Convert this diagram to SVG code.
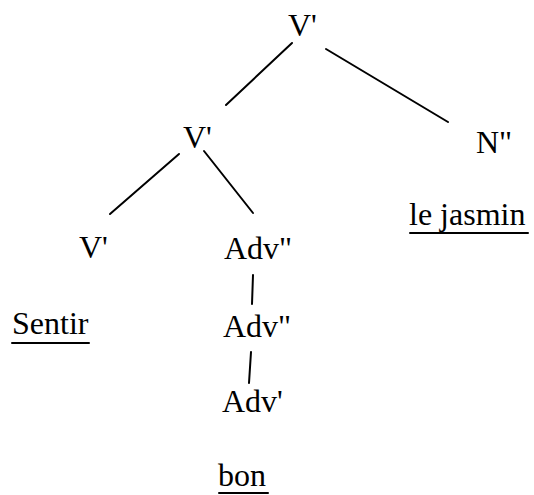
<svg xmlns="http://www.w3.org/2000/svg" width="534" height="495" viewBox="0 0 534 495">
<style>
text{font-family:"Liberation Serif","Times New Roman",serif;font-size:32px;fill:#000}
line{stroke:#000;stroke-width:2;stroke-linecap:round}
</style>
<rect width="534" height="495" fill="#fff"/>
<g id="connectors">
<line x1="292" y1="43" x2="226" y2="105"/>
<line x1="326" y1="49" x2="448" y2="122"/>
<line x1="179" y1="154" x2="110" y2="214"/>
<line x1="204" y1="151" x2="253" y2="213"/>
<line x1="253" y1="275" x2="252" y2="304"/>
<line x1="251" y1="352" x2="249" y2="383"/>
</g>
<g id="n-top"><text x="288" y="36">V'</text></g>
<g id="n-vmid"><text x="183" y="148">V'</text></g>
<g id="n-n"><text x="476" y="153">N"</text></g>
<g id="n-jasmin"><text x="409" y="225">le jasmin</text><line x1="410" y1="233" x2="528" y2="233"/></g>
<g id="n-vleft"><text x="79" y="258">V'</text></g>
<g id="n-adv1"><text x="224" y="259">Adv"</text></g>
<g id="n-sentir"><text x="12" y="334">Sentir</text><line x1="12" y1="343" x2="89" y2="343"/></g>
<g id="n-adv2"><text x="223" y="337">Adv"</text></g>
<g id="n-adv3"><text x="222" y="412">Adv'</text></g>
<g id="n-bon"><text x="218" y="486">bon</text><line x1="219" y1="493" x2="268" y2="493"/></g>
</svg>
